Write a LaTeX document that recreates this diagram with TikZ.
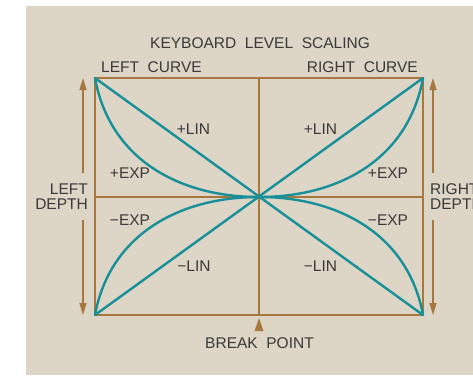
\documentclass[tikz,border=0pt]{standalone}
\usepackage{fontspec}
\setmainfont{Liberation Sans}
\usetikzlibrary{arrows.meta}
\definecolor{bg}{HTML}{DDD5C5}
\definecolor{teal1}{HTML}{17909A}
\definecolor{brownl}{HTML}{A8773E}
\definecolor{txt}{HTML}{3A3A3A}
\begin{document}
\begin{tikzpicture}[x=1pt,y=-1pt,
  lbl/.style={text=txt,font=\fontsize{15.5}{15}\selectfont,inner sep=0pt},
  frame/.style={draw=brownl,line width=1.2pt},
  curve/.style={draw=teal1,line width=2.4pt,line cap=round},
  depth/.style={draw=brownl,line width=1.3pt,-{Triangle[length=12pt,width=7pt]}}]
\useasboundingbox (0,0) rectangle (473,375);
\fill[white] (0,0) rectangle (473,375);
\fill[bg] (26,6) rectangle (473,375);
% frame coordinates
\coordinate (TL) at (95,78);
\coordinate (TR) at (423,78);
\coordinate (BL) at (95,315);
\coordinate (BR) at (423,315);
\coordinate (C) at (259,197);
\coordinate (TM) at (259,78);
\coordinate (BM) at (259,315);
\coordinate (LM) at (95,197);
\coordinate (RM) at (423,197);
\draw[frame] (TL) rectangle (BR);
\draw[frame] (TM) -- (BM);
\draw[frame] (LM) -- (RM);
% curves
\draw[curve] (TL) -- (BR);
\draw[curve] (BL) -- (TR);
\draw[curve] (TL) .. controls (110,160) and (180,197) .. (C);
\draw[curve] (BL) .. controls (110,234) and (180,197) .. (C);
\draw[curve] (TR) .. controls (408,160) and (338,197) .. (C);
\draw[curve] (BR) .. controls (408,234) and (338,197) .. (C);
% depth arrows
\coordinate (LA1) at (83,173);
\coordinate (LA2) at (83,78);
\coordinate (LA3) at (83,220);
\coordinate (LA4) at (83,315);
\coordinate (RA1) at (433,173);
\coordinate (RA2) at (433,78);
\coordinate (RA3) at (433,220);
\coordinate (RA4) at (433,315);
\draw[depth] (LA1) -- (LA2);
\draw[depth] (LA3) -- (LA4);
\draw[depth] (RA1) -- (RA2);
\draw[depth] (RA3) -- (RA4);
% break point marker
\fill[brownl] (259,318) -- (263.5,331) -- (254.5,331) -- cycle;
% texts
\node[lbl] (title) at (260,43) {KEYBOARD\ \ LEVEL\ \ SCALING};
\node[lbl,anchor=west] (lc) at (101,67) {LEFT\ \ CURVE};
\node[lbl,anchor=east] (rc) at (418,67) {RIGHT\ \ CURVE};
\node[lbl] (plinl) at (193.5,129) {+LIN};
\node[lbl] (plinr) at (320.5,129) {+LIN};
\node[lbl] (pexpl) at (130,173) {+EXP};
\node[lbl] (pexpr) at (388,173) {+EXP};
\node[lbl] (mexpl) at (130,220) {−EXP};
\node[lbl] (mexpr) at (388,220) {−EXP};
\node[lbl] (mlinl) at (194,266) {−LIN};
\node[lbl] (mlinr) at (320.5,266) {−LIN};
\node[lbl,anchor=east,align=right] (ld) at (88,196.5) {LEFT\\DEPTH};
\node[lbl,anchor=west,align=left] (rd) at (430,196.5) {RIGHT\\DEPTH};
\node[lbl] (bp) at (259.5,343) {BREAK\ \ POINT};
\end{tikzpicture}
\end{document}
